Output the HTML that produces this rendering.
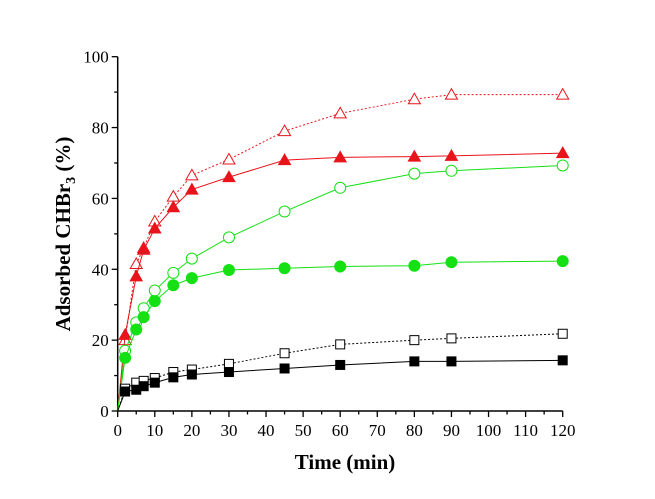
<!DOCTYPE html>
<html><head><meta charset="utf-8"><style>
body{margin:0;background:#fff}
svg text{font-family:"Liberation Serif",serif}
</style></head><body>
<svg id="chart" width="655" height="494" xmlns="http://www.w3.org/2000/svg">
<g id="axes"></g>
<g id="series"></g>
<text x="345" y="469" text-anchor="middle" font-size="21" font-weight="bold">Time (min)</text>
<text transform="translate(70,234) rotate(-90)" text-anchor="middle" font-size="21" font-weight="bold">Adsorbed CHBr<tspan font-size="14" dy="5">3</tspan><tspan dy="-5"> (%)</tspan></text>
</svg>
<script>
const times=[0,2,5,7,10,15,20,30,45,60,80,90,120];
const openTri=[0,20,41.5,46,53.5,60.5,66.5,71,79,84,88,89.3,89.3];
const fillTri=[0,21.5,38,45.5,51.5,57.5,62.5,66,70.8,71.6,71.8,72,72.8];
const openCirc=[0,17,25,29,34,39,43,49,56.3,63,67,67.8,69.3];
const fillCirc=[0,15,23,26.5,31,35.5,37.5,39.8,40.3,40.8,41,42,42.3];
const openSq=[0,6.3,8,8.5,9.3,11,11.7,13.3,16.3,18.8,20,20.5,21.8];
const fillSq=[0,5.5,6,7,8,9.5,10.3,11,12,13,14,14,14.3];
const xTicks=[0,10,20,30,40,50,60,70,80,90,100,110,120];
const yTicks=[0,20,40,60,80,100];
const NS="http://www.w3.org/2000/svg";
const X=v=>117.7+v*(562.7-117.7)/120;
const Y=v=>411-v*(411-56.7)/100;
function mk(t,a,p){const e=document.createElementNS(NS,t);for(const k in a)e.setAttribute(k,a[k]);p.appendChild(e);return e;}
const ax=document.getElementById('axes');
let l=mk('line',{x1:X(0),y1:Y(0),x2:X(120),y2:Y(0),stroke:'#000','stroke-width':1.5},ax);


l=mk('line',{x1:X(0),y1:Y(0),x2:X(0),y2:Y(100),stroke:'#000','stroke-width':1.5},ax);


for(let v=0;v<=120;v+=5){const maj=v%10===0;mk('line',{x1:X(v),y1:Y(0),x2:X(v),y2:Y(0)+(maj?6:3.5),stroke:'#000','stroke-width':1.3},ax);}
for(let v=0;v<=100;v+=10){const maj=v%20===0;mk('line',{x1:X(0),y1:Y(v),x2:X(0)-(maj?6:3.5),y2:Y(v),stroke:'#000','stroke-width':1.3},ax);}
xTicks.forEach(v=>{const t=mk('text',{x:X(v),y:Y(0)+25,'text-anchor':'middle','font-size':17},ax);t.textContent=v;

});
yTicks.forEach(v=>{const t=mk('text',{x:X(0)-9,y:Y(v)+6,'text-anchor':'end','font-size':17},ax);t.textContent=v;

});
const sg=document.getElementById('series');
function series(name,vals,color,dash,shape,filled){
 const g=mk('g',{},sg);
 
 
 mk('polyline',{points:times.map((t,i)=>X(t)+','+Y(vals[i])).join(' '),fill:'none',stroke:color,'stroke-width':1,'stroke-dasharray':dash},g);
 times.forEach((t,i)=>{if(t===0)return;const cx=X(t),cy=Y(vals[i]);let m;
  const a={fill:filled?color:'#fff',stroke:color,'stroke-width':1};
  if(shape==='tri'){a.points=`${cx},${cy-6} ${cx-6},${cy+4.5} ${cx+6},${cy+4.5}`;m=mk('polygon',a,g);}
  else if(shape==='circ'){a.cx=cx;a.cy=cy;a.r=5.5;m=mk('circle',a,g);}
  else {a.x=cx-4.5;a.y=cy-4.5;a.width=9;a.height=9;m=mk('rect',a,g);}
  
  
 });
}
series('series-open-triangle',openTri,'#e8141b','2,2','tri',false);
series('series-filled-triangle',fillTri,'#e8141b','','tri',true);
series('series-open-circle',openCirc,'#14e014','','circ',false);
series('series-filled-circle',fillCirc,'#14e014','','circ',true);
series('series-open-square',openSq,'#000','2,2','sq',false);
series('series-filled-square',fillSq,'#000','','sq',true);
</script>
</body></html>
